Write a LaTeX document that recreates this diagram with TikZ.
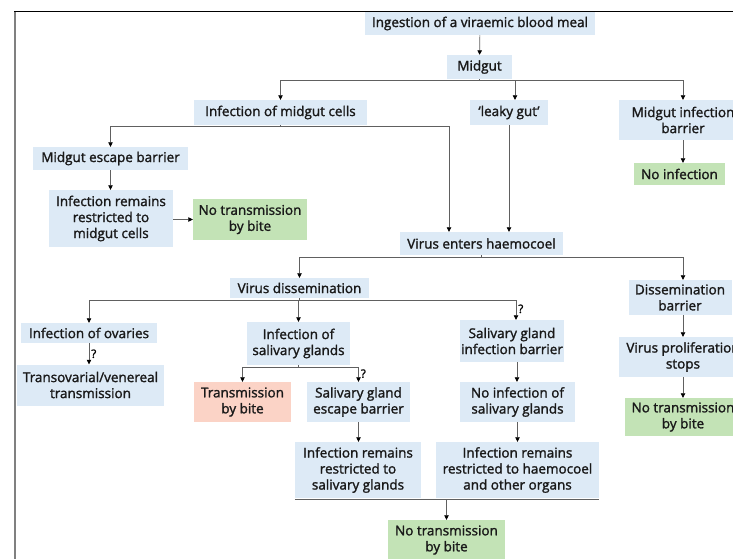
\documentclass[tikz,border=0pt]{standalone}
\usepackage{fontspec}
\setmainfont{Open Sans}[FakeBold=1.6]
\usetikzlibrary{arrows.meta,calc}
\definecolor{boxblue}{HTML}{DDEAF6}
\definecolor{boxgreen}{HTML}{C3E3B6}
\definecolor{boxpink}{HTML}{FBD3C6}
\definecolor{linegray}{HTML}{606060}
\begin{document}
\begin{tikzpicture}[x=1pt,y=-1pt,
  box/.style={fill=boxblue, inner sep=0pt, align=center, font=\fontsize{13.5}{16}\selectfont, text=black!90},
  gbox/.style={box, fill=boxgreen},
  pbox/.style={box, fill=boxpink},
  conn/.style={draw=linegray, line width=0.7pt},
  arr/.style={conn, -{Triangle[width=4.5pt,length=4.5pt,fill=black,color=black]}},
  qm/.style={font=\fontsize{11.5}{13}\selectfont, inner sep=2pt}]
\clip (0,0) rectangle (733,558);
\fill[white] (0,0) rectangle (733,558);
% frame
\draw[gray, line width=2pt] (15,11) -- (15,560);
\draw[black, line width=1pt] (14,11.5) -- (740,11.5);
% nodes
\node[box, minimum width=230, minimum height=23] (ing) at (480,23.5) {Ingestion of a viraemic blood meal};
\node[box, minimum width=65, minimum height=24] (mid) at (479.5,67) {Midgut};
\node[box, minimum width=173, minimum height=25] (imc) at (280.5,112.5) {Infection of midgut cells};
\node[box, minimum width=78, minimum height=25] (leaky) at (509,112.5) {`leaky gut'};
\node[box, minimum width=128, minimum height=40] (mib) at (683,120) {Midgut infection\\barrier};
\node[gbox, minimum width=91, minimum height=22] (noinf) at (679.5,174) {No infection};
\node[box, minimum width=155, minimum height=23] (meb) at (110.5,158.5) {Midgut escape barrier};
\node[box, minimum width=124, minimum height=57] (irm) at (111,218.5) {Infection remains\\restricted to\\midgut cells};
\node[gbox, minimum width=114, minimum height=41] (ntba) at (250,219.5) {No transmission\\by bite};
\node[box, minimum width=163, minimum height=23] (veh) at (481.5,243.5) {Virus enters haemocoel};
\node[box, minimum width=139, minimum height=20] (vd) at (299.5,288) {Virus dissemination};
\node[box, minimum width=103, minimum height=35] (db) at (680,297.5) {Dissemination\\barrier};
\node[box, minimum width=136, minimum height=20] (io) at (89,333) {Infection of ovaries};
\node[box, minimum width=103, minimum height=43] (isg) at (298.5,343.5) {Infection of\\salivary glands};
\node[box, minimum width=104, minimum height=42] (sgib) at (512,341) {Salivary gland\\infection barrier};
\node[box, minimum width=128, minimum height=40] (vps) at (683,357) {Virus proliferation\\stops};
\node[gbox, minimum width=116, minimum height=38] (ntbb) at (683,417) {No transmission\\by bite};
\node[box, minimum width=147, minimum height=41] (tvt) at (90.5,385) {Transovarial/venereal\\transmission};
\node[pbox, minimum width=97, minimum height=40] (tb) at (242.5,402) {Transmission\\by bite};
\node[box, minimum width=103, minimum height=40] (sgeb) at (358.5,402) {Salivary gland\\escape barrier};
\node[box, minimum width=126, minimum height=56] (irs) at (358,470) {Infection remains\\restricted to\\salivary glands};
\node[box, minimum width=115, minimum height=40] (nis) at (517.5,402) {No infection of\\salivary glands};
\node[box, minimum width=163, minimum height=56] (irh) at (517.5,470) {Infection remains\\restricted to haemocoel\\and other organs};
\node[gbox, minimum width=117, minimum height=40] (ntbc) at (446.5,540) {No transmission\\by bite};
% connectors
\draw[arr] (ing) -- (mid);
\coordinate (h1) at ($(mid.south)+(0,1)$);
\draw[conn] (mid.south) -- (h1);
\draw[arr] (h1) -| (imc.north);
\draw[arr] (h1) -| ([xshift=6pt]leaky.north);
\draw[arr] (h1) -| (mib.north);
\draw[arr] (mib.south) -- (mib.south |- noinf.north);
\coordinate (h2) at ($(imc.south)+(0,1)$);
\draw[conn] (imc.south) -- (h2);
\draw[arr] (h2) -| (meb.north);
\draw[arr] (h2) -| ([xshift=-32.5pt]veh.north);
\draw[arr] (leaky.south) -- (leaky.south |- veh.north);
\draw[arr] (meb.south) -- (meb.south |- irm.north);
\draw[arr] (irm.east |- ntba.west) -- (ntba.west);
\coordinate (h3) at ($(veh.south)+(0,2)$);
\draw[conn] (veh.south) -- (h3);
\draw[arr] (h3) -| (vd.north);
\draw[arr] (h3) -| ([xshift=3pt]db.north);
\coordinate (h4) at ($(vd.south)+(0,2)$);
\draw[conn] (vd.south) -- (h4);
\draw[arr] (h4) -| (io.north);
\draw[arr] (h4) -| (isg.north);
\draw[arr] (h4) -| node[qm, pos=0.72, right] {?} ([xshift=4pt]sgib.north);
\draw[arr] (io.south) -- node[qm, right] {?} (io.south |- tvt.north);
\coordinate (h5) at ($(isg.south)+(0,2)$);
\draw[conn] (isg.south) -- (h5);
\draw[arr] (h5) -| (tb.north);
\draw[arr] (h5) -| node[qm, pos=0.72, right] {?} (sgeb.north);
\draw[arr] (db.south -| vps.north) -- (vps.north);
\draw[arr] (vps.south) -- (ntbb.north);
\draw[arr] ([xshift=5pt]sgib.south) -- ([xshift=5pt]sgib.south |- nis.north);
\draw[arr] (sgeb.south) -- (sgeb.south |- irs.north);
\draw[arr] (nis.south) -- (irh.north);
\coordinate (h6) at ($(irs.south)+(0,1)$);
\draw[conn] (irs.south west |- h6) -- (irh.south east |- h6);
\draw[arr] (h6 -| ntbc.north) -- (ntbc.north);
\end{tikzpicture}
\end{document}
